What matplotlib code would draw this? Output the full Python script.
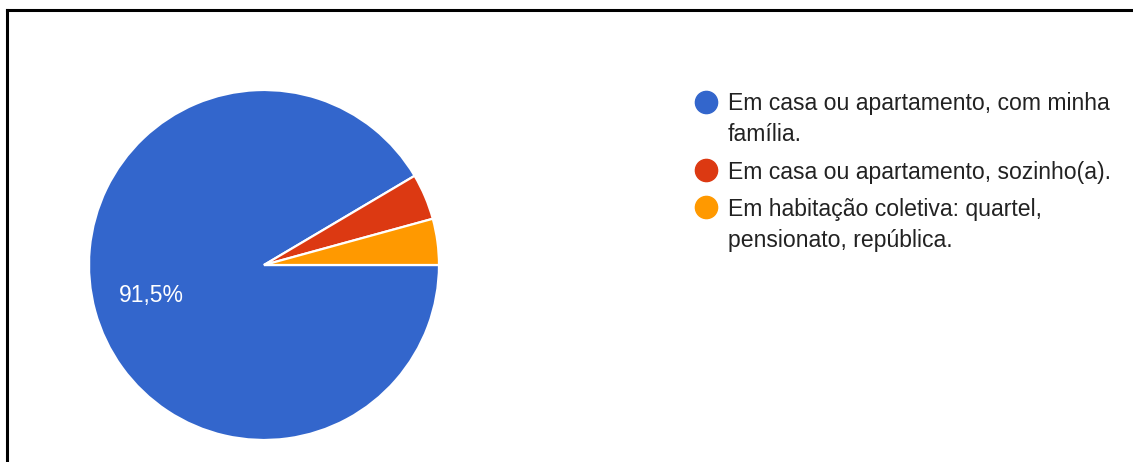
import matplotlib
matplotlib.use("Agg")
import matplotlib.pyplot as plt
from matplotlib.lines import Line2D

# Response counts per housing situation
categories = [
    "Em casa ou apartamento, com minha família.",
    "Em casa ou apartamento, sozinho(a).",
    "Em habitação coletiva: quartel, pensionato, república.",
]
legend_lines = [
    ["Em casa ou apartamento, com minha", "família."],
    ["Em casa ou apartamento, sozinho(a)."],
    ["Em habitação coletiva: quartel,", "pensionato, república."],
]
counts = [43, 2, 2]
colors = ["#3366cc", "#dc3912", "#ff9900"]

plt.rcParams["font.family"] = ["Liberation Sans", "DejaVu Sans"]

W, H = 1133, 462
fig = plt.figure(figsize=(W / 100, H / 100), dpi=100)
fig.patch.set_facecolor("white")


def fx(px):
    return px / W


def fy(py):
    return 1 - py / H


# Pie axes: centre (264, 265), radius 175 px
cx, cy, r = 264, 265, 175
ax = fig.add_axes([fx(cx - r), fy(cy + r), 2 * r / W, 2 * r / H])


def pct_label(p):
    if p < 10:
        return ""
    return f"{p:.1f}%".replace(".", ",")


wedges, _, autotexts = ax.pie(
    counts,
    colors=colors,
    startangle=0,
    counterclock=False,
    radius=1.0,
    autopct=pct_label,
    pctdistance=0.67,
    wedgeprops=dict(edgecolor="white", linewidth=1.6),
    textprops=dict(color="white", fontsize=16.5),
)
ax.set_xlim(-1, 1)
ax.set_ylim(-1, 1)
ax.set_aspect("auto")
ax.axis("off")

# Legend drawn as circles with wrapped labels
text_x = 728
marker_x = 706
baseline_y = 110
line_h = 31
entry_gap = 37.5
text_color = "#222222"
y = baseline_y
for lines, color in zip(legend_lines, colors):
    fig.add_artist(Line2D([fx(marker_x)], [fy(y - 8.5)], marker="o",
                          markersize=16, color=color, linestyle="none",
                          transform=fig.transFigure))
    for i, line in enumerate(lines):
        fig.text(fx(text_x), fy(y), line, fontsize=16.6, color=text_color,
                 ha="left", va="baseline")
        if i < len(lines) - 1:
            y += line_h
    y += entry_gap

# Frame lines along the top and left edges
fig.add_artist(Line2D([fx(7), 1.0], [fy(10), fy(10)], color="black",
                      linewidth=2.2, transform=fig.transFigure))
fig.add_artist(Line2D([fx(7), fx(7)], [fy(10), 0.0], color="black",
                      linewidth=2.2, transform=fig.transFigure))

fig.savefig("out.png", dpi=100, facecolor="white")
